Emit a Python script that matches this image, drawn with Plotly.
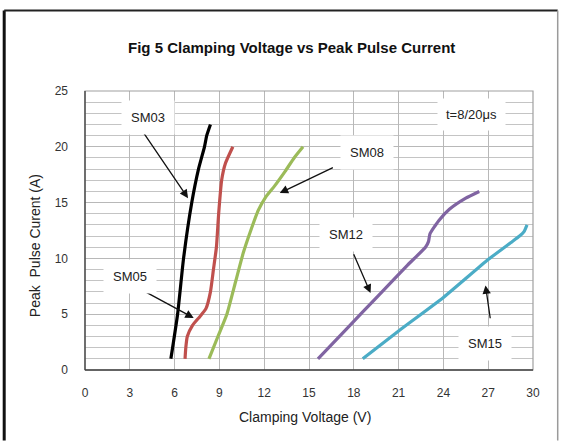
import plotly.graph_objects as go

# ---------------- data ----------------
sm03_v = [5.75, 6.2, 6.6, 7.15, 7.6, 8.0, 8.15, 8.4]
sm03_i = [1, 5, 10, 15, 18, 20, 21, 22]

sm05_v = [6.7, 6.75, 6.85, 7.2, 7.7, 8.1, 8.4, 8.6, 8.8, 8.95, 9.15, 9.4, 9.9]
sm05_i = [1, 2, 3, 4, 4.8, 5.5, 7, 9, 11, 14, 17, 18.5, 20]

sm08_v = [8.3, 8.9, 9.5, 10.1, 10.6, 11.1, 11.6, 12.1, 12.7, 13.4, 14.0, 14.6]
sm08_i = [1, 3, 5, 8, 10.5, 12.5, 14.3, 15.5, 16.5, 17.8, 19, 20]

sm12_v = [15.6, 17.6, 19.6, 21.6, 22.8, 23.0, 23.1, 23.7, 24.4, 25.5, 26.4]
sm12_i = [1, 3.8, 6.6, 9.4, 11, 11.5, 12.2, 13.4, 14.4, 15.4, 16]

sm15_v = [18.6, 21.0, 24.0, 27.0, 28.5, 29.1, 29.4, 29.6]
sm15_i = [1, 3.5, 6.5, 9.9, 11.4, 12, 12.4, 13]

series_names = ["SM03", "SM05", "SM08", "SM12", "SM15"]
series_colors = ["#000000", "#c0504d", "#9bbb59", "#8064a2", "#4bacc6"]
series_v = [sm03_v, sm05_v, sm08_v, sm12_v, sm15_v]
series_i = [sm03_i, sm05_i, sm08_i, sm12_i, sm15_i]

x_ticks = [0, 3, 6, 9, 12, 15, 18, 21, 24, 27, 30]
y_ticks = [0, 5, 10, 15, 20, 25]

# label positions (data coords): text x, text y, arrow tail x, y, arrow head x, y
label_pos = {
    "SM03": (4.2, 22.6, 3.8, 21.5, 6.9, 15.4),
    "SM05": (3.0, 8.4, 3.3, 7.55, 7.28, 4.66),
    "SM08": (18.9, 19.5, 16.7, 18.2, 13.04, 15.86),
    "SM12": (17.5, 12.1, 17.95, 10.5, 19.12, 6.9),
    "SM15": (26.8, 2.4, 27.15, 4.5, 26.82, 7.58),
}

FONT = "Liberation Sans, Arial, sans-serif"

L, R, T, B = 85.3, 533.3, 90.7, 370.3
W, H = R - L, B - T
def px(xp):
    return (xp - L) / W
def py(yp):
    return (B - yp) / H

fig = go.Figure()
for name, col, v, i in zip(series_names, series_colors, series_v, series_i):
    fig.add_trace(go.Scatter(x=v, y=i, mode="lines", name=name,
                             line=dict(color=col, width=3.2, shape="spline", smoothing=0.5),
                             showlegend=False))

annotations = []
for name in series_names:
    tx, ty, ax_, ay_, hx, hy = label_pos[name]
    annotations.append(dict(x=hx, y=hy, ax=ax_, ay=ay_, xref="x", yref="y",
                            axref="x", ayref="y", text="", showarrow=True,
                            arrowhead=2, arrowsize=1.3, arrowwidth=1.3,
                            arrowcolor="#111111"))
for name in series_names:
    tx, ty, ax_, ay_, hx, hy = label_pos[name]
    annotations.append(dict(x=tx, y=ty, xref="x", yref="y", text=name,
                            showarrow=False, bgcolor="white", borderpad=9,
                            font=dict(family=FONT, size=13, color="#222222")))
annotations.append(dict(x=25.9, y=22.9, xref="x", yref="y", text="t=8/20μs",
                        showarrow=False, bgcolor="white", borderpad=8,
                        font=dict(family=FONT, size=13, color="#222222")))
annotations.append(dict(x=px(291.5), y=py(47), xref="paper", yref="paper",
                        text="<b>Fig 5 Clamping Voltage vs Peak Pulse Current</b>",
                        showarrow=False, xanchor="center", yanchor="middle",
                        font=dict(family=FONT, size=15, color="#111111")))
annotations.append(dict(x=px(305.5), y=py(417.5), xref="paper", yref="paper",
                        text="Clamping Voltage (V)", showarrow=False,
                        xanchor="center", yanchor="middle",
                        font=dict(family=FONT, size=14, color="#222222")))
annotations.append(dict(x=px(35.5), y=py(246), xref="paper", yref="paper",
                        text="Peak  Pulse Curent (A)", textangle=-90, showarrow=False,
                        xanchor="center", yanchor="middle",
                        font=dict(family=FONT, size=14, color="#222222")))
fig.update_layout(annotations=annotations)

shapes = [
    dict(type="rect", xref="paper", yref="paper", x0=0, x1=1, y0=0, y1=1,
         line=dict(color="#a0a0a0", width=1.2), layer="above"),
    dict(type="line", xref="paper", yref="paper", x0=0, x1=0, y0=0, y1=1,
         line=dict(color="#404040", width=1.3), layer="above"),
    dict(type="line", xref="paper", yref="paper", x0=0, x1=1, y0=0, y1=0,
         line=dict(color="#404040", width=1.3), layer="above"),
    dict(type="line", xref="paper", yref="paper", x0=px(4.5), x1=px(4.5), y0=py(441), y1=py(10),
         line=dict(color="#111111", width=3)),
    dict(type="line", xref="paper", yref="paper", x0=px(4.5), x1=px(558), y0=py(10), y1=py(10),
         line=dict(color="#222222", width=2)),
    dict(type="line", xref="paper", yref="paper", x0=px(558), x1=px(558), y0=py(10), y1=py(441),
         line=dict(color="#9a9a9a", width=1.5)),
]
fig.update_layout(shapes=shapes)

fig.update_xaxes(range=[0, 30], tickvals=x_ticks, ticktext=[str(t) for t in x_ticks],
                 showgrid=True, gridcolor="#b8b8b8", gridwidth=1,
                 zeroline=False, showline=False, ticks="",
                 tickfont=dict(family=FONT, size=12, color="#333333"),
                 ticklabelstandoff=14)
fig.update_yaxes(range=[0, 25], tickvals=y_ticks, ticktext=[str(t) for t in y_ticks],
                 showgrid=True, gridcolor="#b8b8b8", gridwidth=1,
                 minor=dict(dtick=1, showgrid=True, gridcolor="#c4c4c4", gridwidth=1),
                 zeroline=False, showline=False, ticks="",
                 tickfont=dict(family=FONT, size=12, color="#333333"),
                 ticklabelstandoff=16)

fig.update_layout(width=562, height=441,
                  margin=dict(l=L, r=562 - R, t=T, b=441 - B, pad=0),
                  paper_bgcolor="white", plot_bgcolor="white",
                  font=dict(family=FONT))

fig.write_html("out.html", config={"displayModeBar": False},
               post_script="document.body.style.margin='0';document.body.style.padding='0';")
